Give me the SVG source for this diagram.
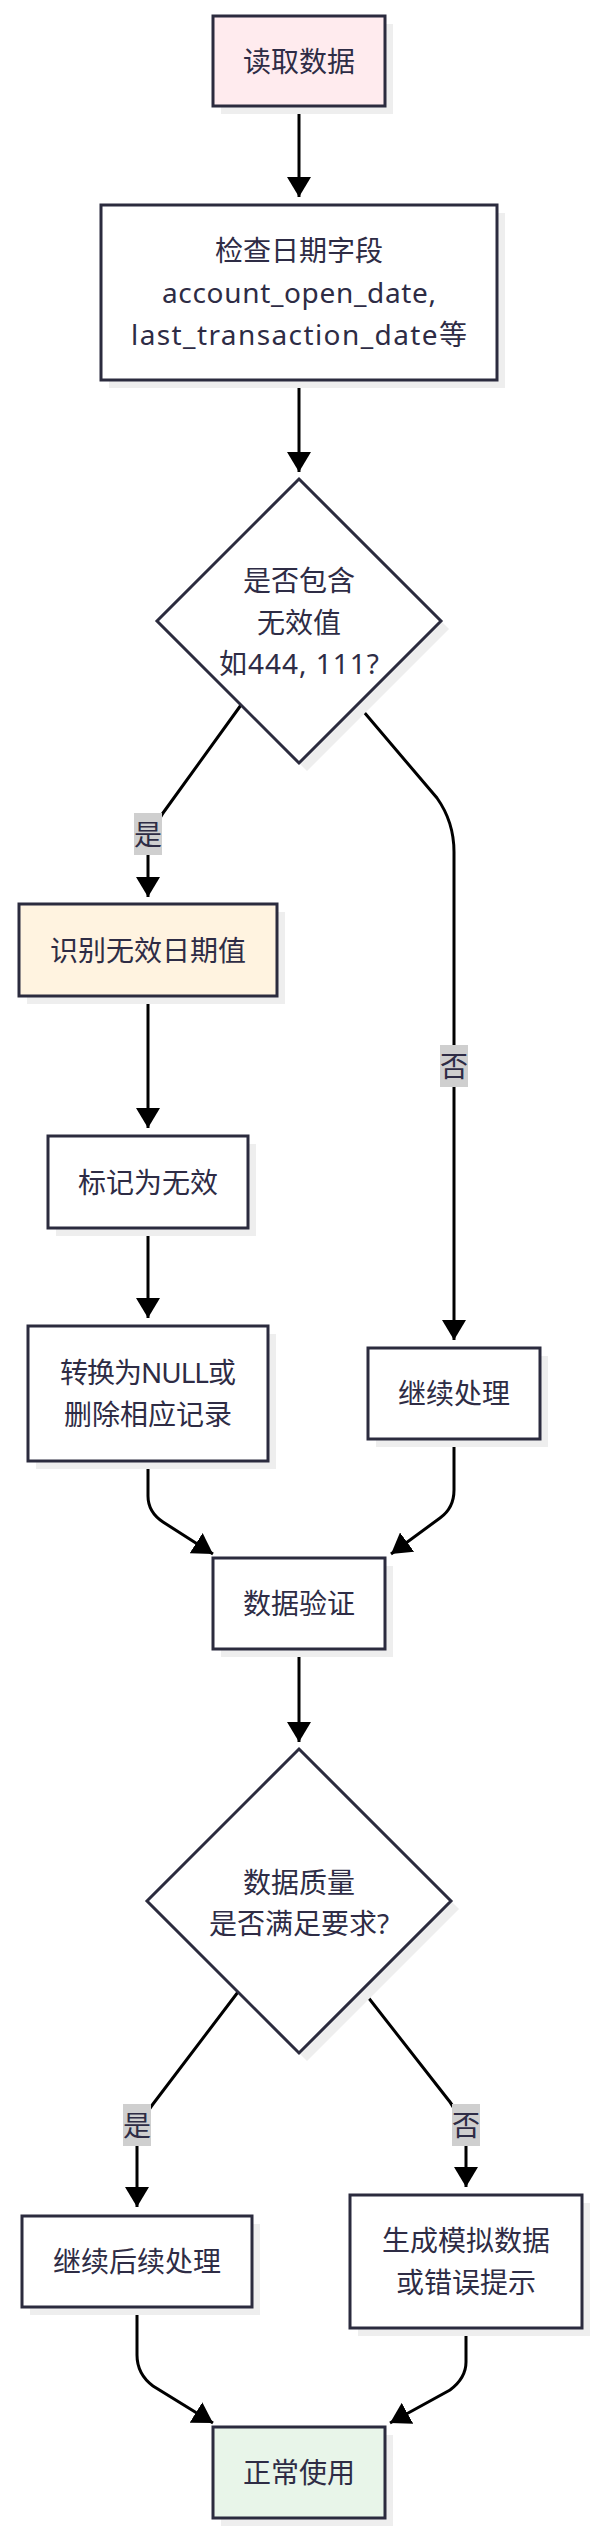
<svg xmlns="http://www.w3.org/2000/svg" width="598" height="2534" viewBox="0 0 598 2534">
<defs>
<style>
.box{stroke:#2b2b3e;stroke-width:3;}
.sh{fill:#eeeeee;}
.t{font-family:"Noto Sans","Noto Sans CJK SC",sans-serif;font-size:28px;fill:#2e2c45;text-anchor:middle;dominant-baseline:central;}
.e{fill:none;stroke:#000;stroke-width:3;}
.lb{fill:#cfcfcf;}
</style>
<marker id="arr" markerUnits="userSpaceOnUse" markerWidth="20" markerHeight="24" viewBox="0 0 20 24" refX="20" refY="12" orient="auto">
<path d="M0,0 L20,12 L0,24 z" fill="#000"/>
</marker>
</defs>
<rect width="598" height="2534" fill="#fff"/>

<g id="connectors">
<path class="e" d="M299,106 L299,197" marker-end="url(#arr)"/>
<path class="e" d="M299,380 L299,472" marker-end="url(#arr)"/>
<path class="e" d="M241,705 L163,813 Q148,834 148,856 L148,897" marker-end="url(#arr)"/>
<path class="e" d="M358,705 L437,798 Q454,822 454,852 L454,1340" marker-end="url(#arr)"/>
<path class="e" d="M148,996 L148,1128" marker-end="url(#arr)"/>
<path class="e" d="M148,1228 L148,1318" marker-end="url(#arr)"/>
<path class="e" d="M148,1461 L148,1496 Q148,1512 163,1522 L213,1554" marker-end="url(#arr)"/>
<path class="e" d="M454,1439 L454,1490 Q454,1508 440,1518 L391,1554" marker-end="url(#arr)"/>
<path class="e" d="M299,1649 L299,1742" marker-end="url(#arr)"/>
<path class="e" d="M238,1992 L153,2104 Q137,2125 137,2146 L137,2207" marker-end="url(#arr)"/>
<path class="e" d="M364,1992 L450,2102 Q466,2124 466,2146 L466,2187" marker-end="url(#arr)"/>
<path class="e" d="M137,2307 L137,2355 Q137,2374 153,2386 L213,2423" marker-end="url(#arr)"/>
<path class="e" d="M466,2328 L466,2362 Q466,2378 450,2390 L390,2423" marker-end="url(#arr)"/>
<rect class="lb" x="134" y="813" width="28" height="42"/>
<text class="t" x="148" y="834">是</text>
<rect class="lb" x="440" y="1045" width="28" height="42"/>
<text class="t" x="454" y="1066">否</text>
<rect class="lb" x="123" y="2104" width="28" height="42"/>
<text class="t" x="137" y="2125">是</text>
<rect class="lb" x="452" y="2104" width="28" height="42"/>
<text class="t" x="466" y="2125">否</text>
</g>

<g id="n1">
<rect class="sh" x="221" y="24" width="172" height="90"/>
<rect class="box" x="213" y="16" width="172" height="90" fill="#ffebee"/>
<text class="t" x="299" y="61">读取数据</text>
</g>
<g id="n2">
<rect class="sh" x="109" y="213" width="396" height="175"/>
<rect class="box" x="101" y="205" width="396" height="175" fill="#fff"/>
<text class="t" x="299" y="250">检查日期字段</text>
<text class="t" x="299" y="292" textLength="274" lengthAdjust="spacing">account_open_date,</text>
<text class="t" x="299" y="334" textLength="336" lengthAdjust="spacing">last_transaction_date等</text>
</g>
<g id="d1">
<polygon class="sh" points="307,487 449,629 307,771 165,629"/>
<polygon class="box" points="299,479 441,621 299,763 157,621" fill="#fff"/>
<text class="t" x="299" y="580">是否包含</text>
<text class="t" x="299" y="622">无效值</text>
<text class="t" x="299" y="663" textLength="160" lengthAdjust="spacing">如444, 111?</text>
</g>
<g id="n3">
<rect class="sh" x="27" y="912" width="258" height="92"/>
<rect class="box" x="19" y="904" width="258" height="92" fill="#fff3e0"/>
<text class="t" x="148" y="950">识别无效日期值</text>
</g>
<g id="n4">
<rect class="sh" x="56" y="1144" width="200" height="92"/>
<rect class="box" x="48" y="1136" width="200" height="92" fill="#fff"/>
<text class="t" x="148" y="1182">标记为无效</text>
</g>
<g id="n5">
<rect class="sh" x="36" y="1334" width="240" height="135"/>
<rect class="box" x="28" y="1326" width="240" height="135" fill="#fff"/>
<text class="t" x="148" y="1372" textLength="176" lengthAdjust="spacing">转换为NULL或</text>
<text class="t" x="148" y="1414">删除相应记录</text>
</g>
<g id="n6">
<rect class="sh" x="376" y="1356" width="172" height="91"/>
<rect class="box" x="368" y="1348" width="172" height="91" fill="#fff"/>
<text class="t" x="454" y="1393">继续处理</text>
</g>
<g id="n7">
<rect class="sh" x="221" y="1566" width="172" height="91"/>
<rect class="box" x="213" y="1558" width="172" height="91" fill="#fff"/>
<text class="t" x="299" y="1603">数据验证</text>
</g>
<g id="d2">
<polygon class="sh" points="307,1757 459,1909 307,2061 155,1909"/>
<polygon class="box" points="299,1749 451,1901 299,2053 147,1901" fill="#fff"/>
<text class="t" x="299" y="1882">数据质量</text>
<text class="t" x="299" y="1923">是否满足要求?</text>
</g>
<g id="n8">
<rect class="sh" x="30" y="2224" width="230" height="91"/>
<rect class="box" x="22" y="2216" width="230" height="91" fill="#fff"/>
<text class="t" x="137" y="2261">继续后续处理</text>
</g>
<g id="n9">
<rect class="sh" x="358" y="2203" width="232" height="133"/>
<rect class="box" x="350" y="2195" width="232" height="133" fill="#fff"/>
<text class="t" x="466" y="2240">生成模拟数据</text>
<text class="t" x="466" y="2282">或错误提示</text>
</g>
<g id="n10">
<rect class="sh" x="221" y="2435" width="172" height="91"/>
<rect class="box" x="213" y="2427" width="172" height="91" fill="#e8f5e9"/>
<text class="t" x="299" y="2472">正常使用</text>
</g>
</svg>
